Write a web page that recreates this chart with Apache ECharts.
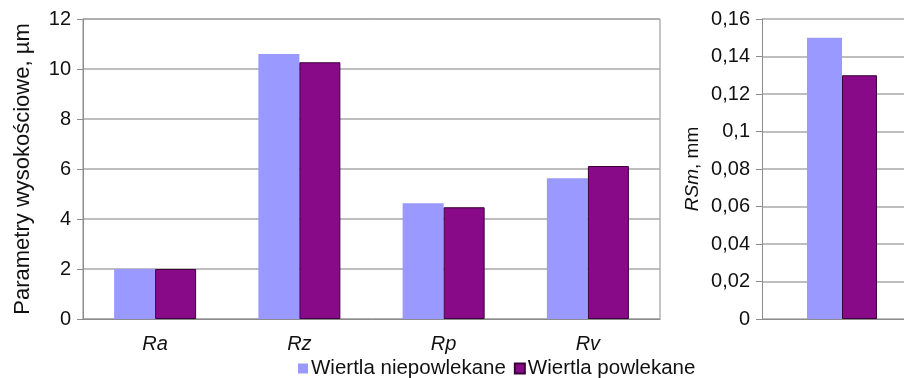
<!DOCTYPE html>
<html lang="pl">
  <head>
    <meta charset="UTF-8" />
    <title>Parametry chropowatości</title>
    <style>
      html, body { margin: 0; padding: 0; background: #fff; }
      #main { width: 904px; height: 378px; }
    </style>
  </head>
  <body>
    <div id="main"></div>
    <script src="https://cdn.jsdelivr.net/npm/echarts@6/dist/echarts.min.js"></script>
    <script>
      const categories = ["Ra", "Rz", "Rp", "Rv"];
      const seriesNames = ["Wiertla niepowlekane", "Wiertla powlekane"];
      const uncoated = [2.0, 10.6, 4.63, 5.63];
      const coated = [2.0, 10.27, 4.47, 6.12];
      const rsmUncoated = [0.15];
      const rsmCoated = [0.13];

      const lightColor = "#9999ff";
      const darkColor = "#880a88";
      const font = "Liberation Sans, Arial, sans-serif";

      const chart = echarts.init(document.getElementById("main"));

      const yBase = {
        type: "value",
        min: 0,
        axisLine: { show: true, lineStyle: { color: "#8c8c8c" } },
        axisTick: { show: true, length: 6, lineStyle: { color: "#8c8c8c" } },
        splitLine: { lineStyle: { color: "#a8a8a8", width: 1.5 } },
        axisLabel: { color: "#111", fontSize: 20, fontFamily: font, margin: 12 },
        nameLocation: "middle",
        nameRotate: 90,
      };

      chart.setOption({
        animation: false,
        textStyle: { fontFamily: font },
        legend: {
          data: seriesNames,
          left: 293,
          top: 353,
          icon: "rect",
          itemWidth: 10,
          itemHeight: 10,
          itemGap: 8,
          textStyle: { fontSize: 20.5, color: "#111", fontFamily: font, padding: [0, 0, 0, -2] },
        },
        grid: [
          {
            left: 83, right: 244, top: 19, bottom: 59, outerBoundsMode: "none",
            show: true, borderColor: "#8c8c8c", borderWidth: 1,
          },
          { left: 762, right: -18, top: 19, bottom: 59, outerBoundsMode: "none" },
        ],
        xAxis: [
          {
            type: "category",
            gridIndex: 0,
            data: categories,
            axisLine: { lineStyle: { color: "#8c8c8c" } },
            axisTick: { length: 6, lineStyle: { color: "#8c8c8c" } },
            axisLabel: { color: "#111", fontSize: 20, fontStyle: "italic", fontFamily: font, margin: 15 },
          },
          {
            type: "category",
            gridIndex: 1,
            data: [""],
            axisLine: { lineStyle: { color: "#8c8c8c" } },
            axisTick: { show: false },
            axisLabel: { show: false },
          },
        ],
        yAxis: [
          Object.assign({}, yBase, {
            gridIndex: 0,
            max: 12,
            interval: 2,
            name: "Parametry wysokościowe, µm",
            nameGap: 49,
            nameTextStyle: { fontSize: 22, color: "#111", fontFamily: font },
          }),
          Object.assign({}, yBase, {
            gridIndex: 1,
            max: 0.16,
            interval: 0.02,
            name: "{i|RSm}{n|, mm}",
            nameGap: 60,
            nameTextStyle: {
              rich: {
                i: { fontSize: 19, fontStyle: "italic", color: "#111", fontFamily: font },
                n: { fontSize: 19, color: "#111", fontFamily: font },
              },
            },
            axisLabel: Object.assign({}, yBase.axisLabel, {
              formatter: (v) => String(v).replace(".", ","),
            }),
          }),
        ],
        series: [
          {
            name: seriesNames[0],
            type: "bar",
            xAxisIndex: 0,
            yAxisIndex: 0,
            data: uncoated,
            barWidth: 41,
            barGap: "0%",
            itemStyle: { color: lightColor },
          },
          {
            name: seriesNames[1],
            type: "bar",
            xAxisIndex: 0,
            yAxisIndex: 0,
            data: coated,
            barWidth: 41,
            barGap: "0%",
            itemStyle: { color: darkColor, borderColor: "#3a003a", borderWidth: 1 },
          },
          {
            name: seriesNames[0],
            type: "bar",
            xAxisIndex: 1,
            yAxisIndex: 1,
            data: rsmUncoated,
            barWidth: 35,
            barGap: "0%",
            itemStyle: { color: lightColor },
          },
          {
            name: seriesNames[1],
            type: "bar",
            xAxisIndex: 1,
            yAxisIndex: 1,
            data: rsmCoated,
            barWidth: 35,
            barGap: "0%",
            itemStyle: { color: darkColor, borderColor: "#3a003a", borderWidth: 1 },
          },
        ],
      });
    </script>
  </body>
</html>
